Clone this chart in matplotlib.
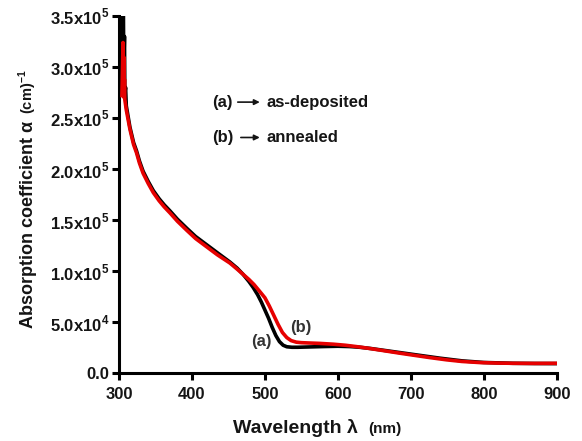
import numpy as np
import matplotlib
matplotlib.use("Agg")
import matplotlib.pyplot as plt
from matplotlib.ticker import FuncFormatter, MultipleLocator

plt.rcParams["font.family"] = ["Liberation Sans", "DejaVu Sans"]
plt.rcParams["font.weight"] = "bold"
plt.rcParams["mathtext.fontset"] = "custom"
plt.rcParams["mathtext.rm"] = "Liberation Sans"
plt.rcParams["mathtext.bf"] = "Liberation Sans:bold"

# (a) as-deposited film, absorption coefficient in units of 1e5 cm^-1
wl_a = [300.5, 301.5, 302, 303, 303.5, 304.5, 305, 306, 306.5, 307.5, 308, 309,
        310, 315, 320, 324, 328, 333, 340, 347, 355, 362, 370, 380, 393, 405,
        420, 435, 452, 462, 470, 478, 484, 490, 495, 500, 505, 510, 515, 520,
        525, 530, 537, 545, 560, 580, 600, 616, 630, 645, 660, 685, 710, 740,
        770, 800, 840, 870, 900]
alpha_a = [2.95, 3.60, 3.10, 3.60, 2.90, 3.60, 3.20, 3.60, 3.00, 3.30, 2.74, 2.80,
           2.62, 2.41, 2.26, 2.18, 2.08, 1.98, 1.88, 1.79, 1.71, 1.65, 1.59, 1.51,
           1.42, 1.34, 1.26, 1.18, 1.09, 1.03, 0.97, 0.90, 0.84, 0.77, 0.70, 0.62,
           0.54, 0.45, 0.37, 0.31, 0.275, 0.26, 0.255, 0.255, 0.258, 0.262, 0.265,
           0.262, 0.255, 0.243, 0.228, 0.203, 0.178, 0.148, 0.122, 0.106, 0.098,
           0.096, 0.095]

# (b) annealed film
wl_b = [304, 305, 305.5, 306, 306.5, 307, 307.5, 308, 310, 315, 320, 324, 328,
        333, 340, 347, 355, 362, 370, 380, 393, 405, 420, 435, 452, 462, 470,
        478, 485, 492, 500, 506, 512, 518, 524, 530, 536, 543, 550, 560, 575,
        594, 610, 625, 640, 660, 685, 703, 725, 749, 770, 795, 820, 840, 870, 900]
alpha_b = [2.72, 3.05, 3.24, 2.80, 3.10, 2.70, 2.88, 2.68, 2.58, 2.39, 2.24, 2.16,
           2.06, 1.96, 1.86, 1.77, 1.69, 1.63, 1.57, 1.49, 1.40, 1.32, 1.24, 1.16,
           1.08, 1.02, 0.97, 0.92, 0.87, 0.81, 0.74, 0.66, 0.57, 0.48, 0.40, 0.35,
           0.32, 0.305, 0.30, 0.297, 0.293, 0.285, 0.275, 0.262, 0.247, 0.225,
           0.197, 0.178, 0.155, 0.132, 0.116, 0.105, 0.100, 0.098, 0.097, 0.098]

ink = "#151515"


def sci_label(v, pos):
    if v <= 0:
        return "0.0"
    exp = int(np.floor(np.log10(v)))
    mant = v / 10 ** exp
    return f"{mant:.1f}x10$^{{\\mathbf{{{exp}}}}}$"


fig = plt.figure(figsize=(5.82, 4.41), dpi=100)
W, H = 582, 441
ax = fig.add_axes([119 / W, 1 - 373.3 / H, (556.7 - 119) / W, (373.3 - 16) / H])

ax.plot(wl_a, np.array(alpha_a) * 1e5, color="black", lw=2.6, zorder=3)
ax.plot(wl_b, np.array(alpha_b) * 1e5, color="#e60000", lw=2.6, zorder=4)

ax.set_xlim(300, 900)
ax.set_ylim(0, 3.5e5)
ax.xaxis.set_major_locator(MultipleLocator(100))
ax.yaxis.set_major_locator(MultipleLocator(5e4))
ax.yaxis.set_major_formatter(FuncFormatter(sci_label))

for s in ["top", "right"]:
    ax.spines[s].set_visible(False)
for s in ["left", "bottom"]:
    ax.spines[s].set_linewidth(2.2)
    ax.spines[s].set_color("black")
ax.tick_params(axis="both", width=2.2, length=5, direction="out",
               labelsize=12, labelcolor=ink)
ax.tick_params(axis="y", pad=2)
ax.tick_params(axis="x", pad=5)

# legend-like notes with arrows
ax.text(0.212, 0.746, "(a)", transform=ax.transAxes, fontsize=12, color=ink)
ax.annotate("", xy=(0.328, 0.759), xytext=(0.265, 0.759),
            xycoords="axes fraction",
            arrowprops=dict(arrowstyle="-|>", lw=1.2, color=ink, mutation_scale=8))
ax.text(0.337, 0.746, "as-deposited", transform=ax.transAxes, fontsize=12, color=ink)

ax.text(0.212, 0.648, "(b)", transform=ax.transAxes, fontsize=12, color=ink)
ax.annotate("", xy=(0.328, 0.660), xytext=(0.272, 0.660),
            xycoords="axes fraction",
            arrowprops=dict(arrowstyle="-|>", lw=1.2, color=ink, mutation_scale=8))
ax.text(0.336, 0.648, "annealed", transform=ax.transAxes, fontsize=12, color=ink)

# curve tags near the absorption edge
ax.text(0.326, 0.088, "(a)", transform=ax.transAxes, fontsize=12, color="#333333",
        ha="center", va="center")
ax.text(0.416, 0.128, "(b)", transform=ax.transAxes, fontsize=12, color="#333333",
        ha="center", va="center")

# axis titles built from two pieces so the unit part can be smaller
fig.canvas.draw()
renderer = fig.canvas.get_renderer()

xl = fig.text(233 / W, 1 - 432.7 / H, "Wavelength λ", fontsize=14, color=ink,
              ha="left", va="baseline")
bb = xl.get_window_extent(renderer)
fig.text((bb.x1 + 10) / W, 1 - 432.7 / H, "(nm)", fontsize=11, color=ink,
         ha="left", va="baseline")

yl = fig.text(33 / W, 1 - 328 / H, "Absorption coefficient α", fontsize=13,
              color=ink, rotation=90, rotation_mode="anchor",
              ha="left", va="baseline")
bb = yl.get_window_extent(renderer)
fig.text(33 / W, (bb.y1 + 7) / H, "(cm)$^{\\mathbf{-1}}$", fontsize=10.5,
         color=ink, rotation=90, rotation_mode="anchor", ha="left", va="baseline")

fig.savefig("out.png", dpi=100)
